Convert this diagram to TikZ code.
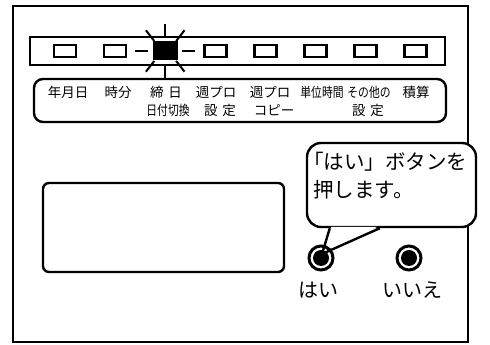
\documentclass[tikz,border=0pt]{standalone}
\usepackage{fontspec}
\newfontfamily\jp{Noto Sans CJK JP}
\usepackage{xcolor}
\definecolor{cInk}{HTML}{000000}
\usepackage{tikz}
\usetikzlibrary{positioning,calc}
\tikzset{
  panel-frame/.style={draw=cInk,line width=2pt},
  panel-box/.style={draw=cInk,line width=2.4pt,rounded corners=7pt,inner sep=0pt},
  led-box/.style={draw=cInk,line width=2.5pt,minimum width=22pt,minimum height=12pt,inner sep=0pt},
  led-lit/.style={fill=cInk,minimum width=25pt,minimum height=19pt,inner sep=0pt},
  led-ray/.style={draw=cInk,line width=2pt},
  key-label/.style={font=\jp\fontsize{13.5}{15}\selectfont,inner sep=0pt},
  key-narrow/.style={transform shape,xscale=0.8},
  btn-ring/.style={circle,draw=cInk,line width=3pt,fill=white,minimum size=24pt,inner sep=0pt},
  btn-dot/.style={circle,fill=cInk,minimum size=16pt,inner sep=0pt},
  btn-label/.style={font=\jp\fontsize{20}{22}\selectfont,inner sep=0pt},
  bubble-box/.style={draw=cInk,line width=2.4pt,fill=white,rounded corners=14pt,inner sep=0pt},
  bubble-text/.style={font=\jp\fontsize{20.5}{28}\selectfont,align=left,inner sep=0pt},
}
\newcommand{\kgap}{\hspace{0.35em}}

\begin{document}
\begin{tikzpicture}[x=1pt,y=1pt]
  \useasboundingbox (0,0) rectangle (490,345);
  \node[panel-frame,minimum width=455pt,minimum height=336pt] (frame) at (240.5,171) {};

  % LED strip
  \node[panel-box,rounded corners=0pt,minimum width=415pt,minimum height=28pt] (strip) at (237.5,294) {};
  \foreach \i in {0,...,7}{
    \ifnum\i=2
      \node[led-lit] (led-\i) at (65+50.1*\i,294) {};
    \else
      \node[led-box] (led-\i) at (65+50.1*\i,294) {};
    \fi
  }
  \foreach \a in {0,50,90,130,180,230,270,310}
    \draw[led-ray] ($(led-2)+(\a:17pt and 13pt)$) -- ($(led-2)+(\a:30pt and 27pt)$);

  % key names
  \node[panel-box,rounded corners=9pt,minimum width=412pt,minimum height=43pt] (keys) at (240,244.5) {};
  \foreach \x/\txt/\sty [count=\i] in {68/年月日/,118/時分/,166/締\kgap 日/,216/週プロ/,
      270/週プロ/,322/単位時間/key-narrow,369/その他の/key-narrow,416/積算/}
    \node[key-label,\sty] (key-\i) at (\x,253) {\txt};
  \foreach \x/\txt/\sty [count=\i] in {168/日付切換/key-narrow,220/設\kgap 定/,274/コピー/,368/設\kgap 定/}
    \node[key-label,\sty] (sub-\i) at (\x,235) {\txt};

  % display
  \node[panel-box,rounded corners=6pt,minimum width=241pt,minimum height=89pt] (display) at (163.5,117.5) {};

  % speech bubble
  \node[bubble-box,minimum width=169pt,minimum height=84pt] (msg) at (391.5,160) {};
  \coordinate (tail-l) at ($(msg.south west)+(24,0)$);
  \coordinate (tail-r) at ($(msg.south west)+(74,0)$);
  \coordinate (tail-tip) at (322,91);
  \fill[white] ($(tail-l)+(1.4,1.4)$) -- (tail-tip) -- ($(tail-r)+(-2.5,1.4)$) -- cycle;
  \node[bubble-text,anchor=west] (msg-text) at (313,169) {\hspace*{-10pt}「はい」ボタンを\\押します。};

  % buttons
  \node[btn-ring] (btn-yes) at (321,87) {};
  \node[btn-dot] at (btn-yes) {};
  \node[btn-ring] (btn-no) at (409,87) {};
  \node[btn-dot] at (btn-no) {};
  \draw[draw=cInk,line width=2.4pt] (tail-l) -- (tail-tip) -- (tail-r);
  \node[btn-label] (yes-label) at (318,55) {はい};
  \node[btn-label] (no-label) at (412,55) {いいえ};
\end{tikzpicture}
\end{document}
